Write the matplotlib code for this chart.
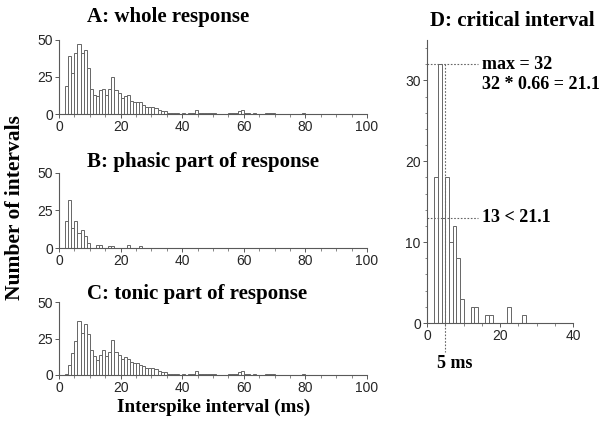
import numpy as np
import matplotlib
matplotlib.use("Agg")
import matplotlib.pyplot as plt
from matplotlib.ticker import MultipleLocator

# interspike interval histograms, 1 ms bins starting at 0 ms
whole_counts = [
    0, 0, 19, 39, 28, 41, 47, 41, 43, 31,
    17, 13, 12, 16, 17, 13, 17, 25, 16, 14,
    11, 12, 13, 9, 8, 8, 8, 6, 5, 5,
    5, 4, 3, 2, 2, 1, 1, 1, 1, 0,
    1, 0, 1, 1, 3, 1, 1, 1, 1, 1,
    1, 0, 0, 0, 0, 1, 1, 1, 2, 3,
    1, 1, 0, 1, 0, 0, 0, 1, 1, 1,
    0, 0, 0, 0, 0, 0, 0, 0, 0, 1,
]
phasic_counts = [
    0, 0, 18, 32, 13, 18, 10, 12, 8, 3,
    0, 0, 2, 2, 0, 0, 1, 1, 0, 0,
    0, 0, 2, 0, 0, 0, 1, 0, 0, 0,
]
tonic_counts = [
    0, 0, 1, 7, 15, 23, 37, 29, 35, 28,
    17, 13, 10, 14, 17, 13, 16, 24, 16, 14,
    11, 12, 11, 9, 8, 8, 7, 6, 5, 5,
    5, 4, 3, 2, 2, 1, 1, 1, 1, 0,
    1, 0, 1, 1, 3, 1, 1, 1, 1, 1,
    1, 0, 0, 0, 0, 1, 1, 1, 2, 3,
    1, 1, 0, 1, 0, 0, 0, 1, 1, 1,
    0, 0, 0, 0, 0, 0, 0, 0, 0, 1,
]
titles = ["A: whole response", "B: phasic part of response", "C: tonic part of response"]
ratio = 0.66
critical_bin = 4  # first bin after the peak that drops below ratio * max

W, H = 603, 423
SERIF = ["Liberation Serif", "DejaVu Serif"]
SANS = ["Liberation Sans", "DejaVu Sans"]
plt.rcParams["font.family"] = SANS
plt.rcParams["font.size"] = 10

fig = plt.figure(figsize=(W / 100, H / 100), dpi=100)


def px_axes(left, top, right, bottom):
    return fig.add_axes([left / W, 1 - bottom / H, (right - left) / W, (bottom - top) / H])


def style(ax):
    for side in ("top", "right"):
        ax.spines[side].set_visible(False)
    for side in ("left", "bottom"):
        ax.spines[side].set_color("0.35")
        ax.spines[side].set_linewidth(0.8)
    ax.tick_params(which="major", length=3, width=0.7, color="0.35", pad=1.5, labelcolor="0.15")
    ax.tick_params(which="minor", length=1.8, width=0.6, color="0.45")


def hist(ax, counts):
    edges = np.arange(len(counts))
    ax.bar(edges, counts, width=1, align="edge", facecolor="white",
           edgecolor="0.4", linewidth=0.7)


# panels A-C
rows = [(40, 114), (173, 248), (302, 375)]
title_y = [17, 162, 294]
for counts, title, (top, bottom), ty in zip(
        [whole_counts, phasic_counts, tonic_counts], titles, rows, title_y):
    ax = px_axes(59, top, 367, bottom)
    hist(ax, counts)
    ax.set_xlim(0, 100)
    ax.set_ylim(0, 50)
    ax.xaxis.set_major_locator(MultipleLocator(20))
    ax.xaxis.set_minor_locator(MultipleLocator(5))
    ax.yaxis.set_major_locator(MultipleLocator(25))
    style(ax)
    fig.text(87 / W, 1 - ty / H, title, family=SERIF, weight="bold",
             fontsize=15, ha="left", va="center")

fig.text(15 / W, 1 - 208 / H, "Number of intervals", family=SERIF, weight="bold",
         fontsize=15.5, rotation=90, ha="center", va="center")
fig.text(214 / W, 1 - 407 / H, "Interspike interval (ms)", family=SERIF,
         weight="bold", fontsize=13.8, ha="center", va="center")

# panel D: phasic histogram, close-up
axd = px_axes(427, 40, 573, 323)
hist(axd, phasic_counts)
axd.set_xlim(0, 40)
axd.set_ylim(0, 35)
axd.xaxis.set_major_locator(MultipleLocator(20))
axd.xaxis.set_minor_locator(MultipleLocator(5))
axd.yaxis.set_major_locator(MultipleLocator(10))
axd.yaxis.set_minor_locator(MultipleLocator(2))
style(axd)

peak = max(phasic_counts)
low = phasic_counts[critical_bin]
crit_ms = critical_bin + 1
dot = dict(color="0.4", linestyle=(0, (1.5, 1.5)), linewidth=0.8, clip_on=False)
axd.plot([0, 14], [peak, peak], **dot)
axd.plot([0, 14], [low, low], **dot)
axd.plot([crit_ms, crit_ms], [peak, -3.6], **dot)

txt = dict(family=SERIF, weight="bold", fontsize=13, va="center", ha="left")
axd.text(15, peak, f"max = {peak}", **txt)
axd.text(15, peak - 2.5, f"{peak} * {ratio} = {peak * ratio:.1f}", **txt)
axd.text(15, low, f"{low} < {peak * ratio:.1f}", **txt)
axd.text(crit_ms + 2.7, -5, f"{crit_ms} ms", **dict(txt, ha="center"))
fig.text(512 / W, 1 - 21 / H, "D: critical interval", family=SERIF, weight="bold",
         fontsize=15, ha="center", va="center")

fig.savefig("out.png", dpi=100)
